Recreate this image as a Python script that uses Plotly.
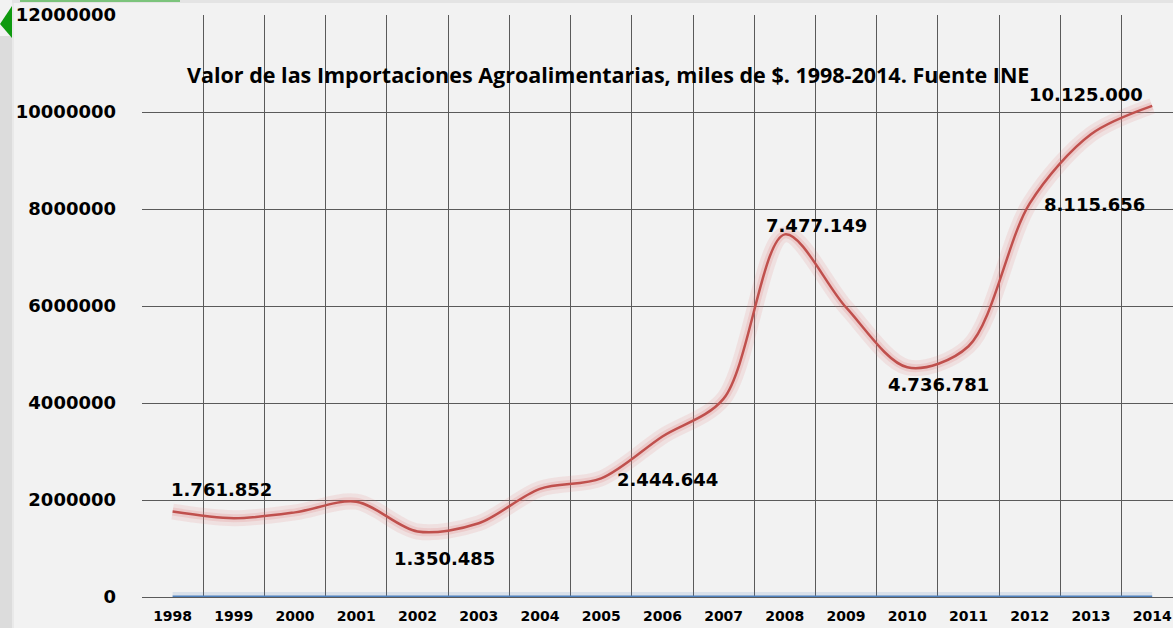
import plotly.graph_objects as go

years = [str(y) for y in range(1998, 2015)]
imports = [1761852, 1625000, 1745000, 1965000, 1350485, 1520000, 2230000, 2444644,
           3310000, 4090000, 7477149, 5970000, 4736781, 5170000, 8115656, 9540000, 10125000]
zero_series = [0] * len(years)

label_years = ["1998", "2002", "2005", "2008", "2010", "2012", "2014"]
label_texts = ["1.761.852", "1.350.485", "2.444.644", "7.477.149", "4.736.781", "8.115.656", "10.125.000"]
label_dx = [49, 27, 66, 32, 31, 65, -66]
label_dy = [22, -27, -1, 9, -17, -1, 11]

y_ticks = [0, 2000000, 4000000, 6000000, 8000000, 10000000, 12000000]
y_tick_text = ["0", "2000000", "4000000", "6000000", "8000000", "10000000", "12000000"]

title_text = "Valor de las Importaciones Agroalimentarias, miles de $. 1998-2014. Fuente INE"

W, H = 1173, 628
L, R, T, B = 142, 0, 15, 31
pw = W - L - R
ph = H - T - B

def px_x(p):
    return (p - L) / pw

def px_y(p):
    return (H - B - p) / ph

fig = go.Figure()

# glow layers
fig.add_trace(go.Scatter(x=years, y=zero_series, mode="lines", cliponaxis=False,
                         line=dict(color="rgba(79,129,189,0.15)", width=10),
                         hoverinfo="skip", showlegend=False))
fig.add_trace(go.Scatter(x=years, y=zero_series, mode="lines", cliponaxis=False,
                         line=dict(color="#4f81bd", width=3),
                         showlegend=False))
fig.add_trace(go.Scatter(x=years, y=imports, mode="lines",
                         line=dict(color="rgba(225,120,120,0.14)", width=16, shape="spline", smoothing=0.9),
                         hoverinfo="skip", showlegend=False))
fig.add_trace(go.Scatter(x=years, y=imports, mode="lines",
                         line=dict(color="rgba(225,120,120,0.2)", width=8, shape="spline", smoothing=0.9),
                         hoverinfo="skip", showlegend=False))
fig.add_trace(go.Scatter(x=years, y=imports, mode="lines",
                         line=dict(color="#c0504d", width=2.5, shape="spline", smoothing=0.9),
                         showlegend=False))

for yr, txt, dx, dy in zip(label_years, label_texts, label_dx, label_dy):
    i = years.index(yr)
    fig.add_annotation(x=i, y=imports[i], xref="x", yref="y", text="<b>" + txt + "</b>", showarrow=False,
                       xshift=dx, yshift=dy, xanchor="center", yanchor="middle",
                       font=dict(family="DejaVu Sans", size=18, color="#000000"))

fig.add_annotation(xref="paper", yref="paper", x=px_x(185), y=px_y(75), text="<b>" + title_text + "</b>",
                   showarrow=False, xanchor="left", yanchor="middle",
                   font=dict(family="Open Sans", size=21.5, color="#000000"))

shapes = [
    dict(type="rect", xref="paper", yref="paper", x0=px_x(0), x1=px_x(12), y0=px_y(628), y1=px_y(36),
         fillcolor="#dcdcdc", line=dict(width=0), layer="below"),
    dict(type="rect", xref="paper", yref="paper", x0=px_x(12), x1=px_x(14), y0=px_y(628), y1=px_y(3),
         fillcolor="#e9e9e9", line=dict(width=0), layer="below"),
    dict(type="rect", xref="paper", yref="paper", x0=px_x(12), x1=px_x(1173), y0=px_y(3), y1=px_y(0),
         fillcolor="#e4e4e4", line=dict(width=0), layer="below"),
    dict(type="rect", xref="paper", yref="paper", x0=px_x(20), x1=px_x(180), y0=px_y(2), y1=px_y(0),
         fillcolor="#7cc47c", line=dict(width=0), layer="below"),
    dict(type="path", xref="paper", yref="paper",
         path="M {} {} L {} {} L {} {} Z".format(px_x(12), px_y(6), px_x(12), px_y(38), px_x(0), px_y(24)),
         fillcolor="#0f9a0f", line=dict(width=0), layer="below"),
]

fig.update_layout(
    width=W, height=H,
    margin=dict(l=L, r=R, t=T, b=B, pad=0),
    paper_bgcolor="#f2f2f2", plot_bgcolor="#f2f2f2",
    showlegend=False,
    shapes=shapes,
    xaxis=dict(type="category", range=[-0.5, 16.34], tickson="boundaries",
               showgrid=True, gridcolor="#5a5a5a", gridwidth=1,
               ticks="", showline=False, zeroline=False,
               tickfont=dict(family="DejaVu Sans", size=14, color="#000000", weight="bold"),
               ticklabelstandoff=9),
    yaxis=dict(range=[0, 12000000], tickvals=y_ticks, ticktext=y_tick_text,
               showgrid=True, gridcolor="#5a5a5a", gridwidth=1,
               zeroline=True, zerolinecolor="#5a5a5a", zerolinewidth=1,
               ticks="", showline=False,
               tickfont=dict(family="DejaVu Sans", size=18, color="#000000", weight="bold"),
               ticklabelstandoff=25),
)

fig.write_html("out.html", config={"displayModeBar": False},
               post_script="document.body.style.margin='0';document.body.style.overflow='hidden';")
